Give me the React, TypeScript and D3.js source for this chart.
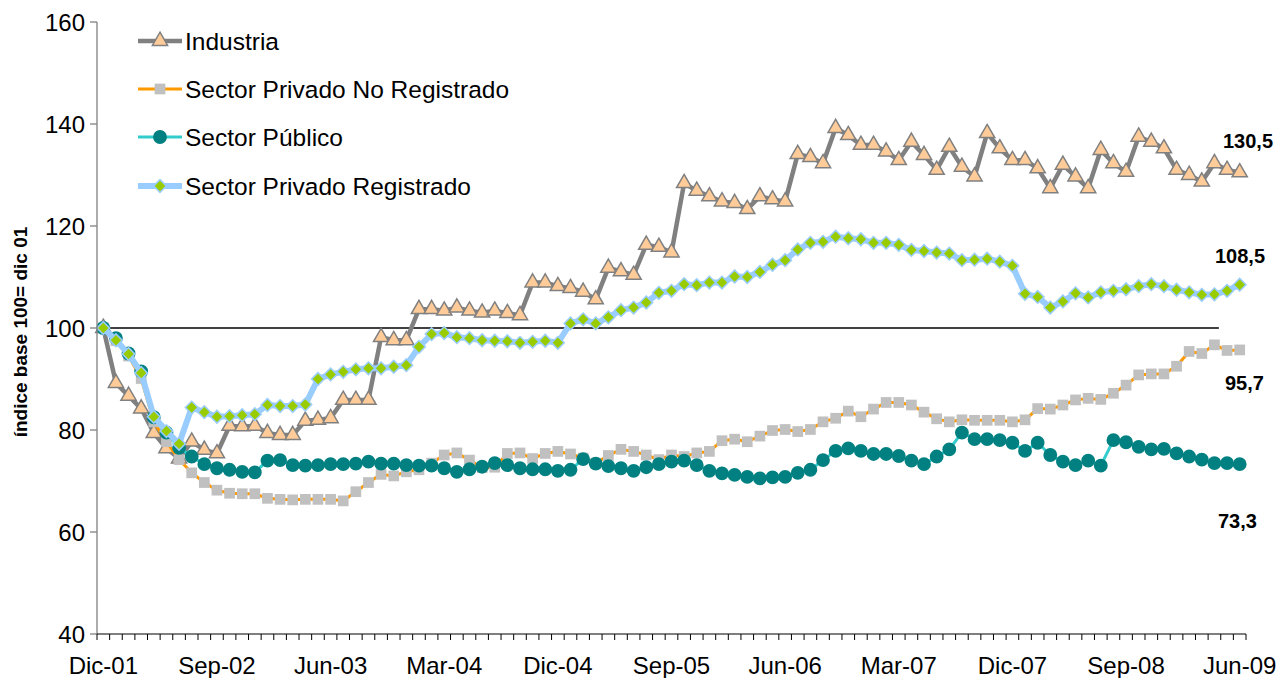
import React from 'react';
import * as d3 from 'd3';

// monthly, Dic-01 .. Jun-09
const monthNames = ['Ene', 'Feb', 'Mar', 'Abr', 'May', 'Jun', 'Jul', 'Ago', 'Sep', 'Oct', 'Nov', 'Dic'];
const months: string[] = [];
for (let k = 0; k < 91; k++) {
  const m = (11 + k) % 12;
  const yr = 1 + Math.floor((11 + k) / 12);
  months.push(`${monthNames[m]}-${String(yr).padStart(2, '0')}`);
}
const tickLabels = ['Dic-01', 'Sep-02', 'Jun-03', 'Mar-04', 'Dic-04', 'Sep-05', 'Jun-06', 'Mar-07', 'Dic-07', 'Sep-08', 'Jun-09'];
const yTicks = [40, 60, 80, 100, 120, 140, 160];

const industria = [
  100, 89.2, 86.7, 84.2, 79.4, 76.4, 74.4, 77.7, 76.1, 75.4,
  80.8, 80.7, 80.8, 79.4, 79.0, 79.0, 81.8, 82.0, 82.3, 85.9,
  85.9, 85.9, 98.2, 97.6, 97.6, 103.7, 103.7, 103.4, 104.0, 103.4,
  103.0, 103.4, 102.9, 102.5, 108.9, 108.9, 108.2, 107.8, 107.1, 105.6,
  111.8, 111.1, 110.4, 116.3, 115.9, 114.8, 128.4, 126.9, 125.8, 124.8,
  124.5, 123.3, 125.8, 125.2, 124.8, 134.1, 133.5, 132.3, 139.2, 137.8,
  135.9, 135.9, 134.6, 132.9, 136.5, 133.9, 131.0, 135.5, 131.6, 129.7,
  138.2, 135.2, 132.9, 132.9, 131.3, 127.4, 132.0, 129.7, 127.4, 134.9,
  132.3, 130.6, 137.5, 136.5, 135.2, 131.0, 130.0, 128.7, 132.3, 131.0,
  130.5,
];

const privadoNoRegistrado = [
  100, 97.5, 94.5, 90.1, 81.6, 77.7, 74.2, 71.6, 69.7, 68.2,
  67.6, 67.5, 67.5, 66.6, 66.4, 66.3, 66.4, 66.4, 66.4, 66.1,
  67.9, 69.7, 71.3, 71.0, 71.8, 72.2, 73.5, 75.1, 75.5, 74.1,
  72.6, 72.7, 75.4, 75.5, 74.4, 75.4, 75.8, 75.3, 74.5, 73.5,
  75.0, 76.2, 75.8, 75.1, 74.2, 75.1, 74.8, 75.5, 75.8, 77.9,
  78.2, 77.7, 78.8, 79.9, 80.1, 79.7, 80.1, 81.6, 82.3, 83.7,
  82.6, 84.1, 85.4, 85.4, 84.9, 83.5, 82.2, 81.6, 82.0, 81.9,
  81.9, 81.9, 81.6, 82.0, 84.2, 84.1, 84.9, 85.9, 86.2, 86.0,
  87.2, 88.8, 90.8, 91.0, 91.0, 92.5, 95.4, 95.0, 96.7, 95.6,
  95.7,
];

const publico = [
  100, 98.0, 95.0, 91.5, 82.5, 79.5, 76.5, 74.8, 73.3, 72.5,
  72.2, 71.8, 71.7, 74.0, 74.1, 73.1, 73.0, 73.1, 73.3, 73.3,
  73.4, 73.8, 73.4, 73.4, 73.1, 73.0, 73.0, 72.5, 71.8, 72.3,
  72.8, 73.5, 73.1, 72.5, 72.3, 72.3, 72.0, 72.2, 74.3, 73.4,
  72.9, 72.5, 72.0, 72.7, 73.3, 73.8, 74.0, 73.1, 72.0, 71.5,
  71.2, 70.8, 70.5, 70.7, 70.8, 71.6, 72.2, 74.1, 75.9, 76.4,
  75.9, 75.3, 75.3, 74.9, 74.0, 73.3, 74.8, 76.2, 79.5, 78.2,
  78.2, 78.0, 77.5, 75.9, 77.5, 75.1, 73.8, 73.1, 74.0, 73.0,
  78.0, 77.6, 76.7, 76.2, 76.3, 75.4, 74.8, 74.2, 73.5, 73.5,
  73.3,
];

const privadoRegistrado = [
  100, 97.6, 94.9, 91.2, 82.6, 79.8, 77.3, 84.4, 83.5, 82.6,
  82.7, 82.9, 83.1, 84.9, 84.7, 84.7, 85.0, 90.0, 90.9, 91.4,
  91.9, 92.1, 92.1, 92.4, 92.7, 96.3, 98.8, 99.0, 98.2, 98.0,
  97.6, 97.5, 97.4, 97.1, 97.3, 97.5, 97.1, 100.9, 101.7, 100.9,
  102.1, 103.5, 104.0, 105.0, 106.9, 107.3, 108.6, 108.4, 108.9, 108.9,
  110.1, 110.0, 111.0, 112.4, 113.3, 115.4, 116.7, 116.9, 117.9, 117.6,
  117.4, 116.7, 116.7, 116.3, 115.3, 115.1, 114.8, 114.6, 113.3, 113.4,
  113.6, 113.0, 112.2, 106.7, 106.1, 104.0, 105.2, 106.8, 106.0, 107.0,
  107.3, 107.6, 108.2, 108.6, 108.2, 107.5, 107.0, 106.5, 106.6, 107.3,
  108.5,
];

const lastLabels = ['130,5', '108,5', '95,7', '73,3'];

const width = 1281;
const height = 678;
const left = 97;
const right = 1246;
const top = 22;
const bottom = 634;
const font = 'Arial, "Liberation Sans", sans-serif';

const x = d3.scalePoint<string>().domain(months).range([left, right]).padding(0.5);
const y = d3.scaleLinear().domain([40, 160]).range([bottom, top]);

// square turned 45deg = the Excel diamond
const series = [
  { name: 'Industria', values: industria, line: '#808080', lw: 4.5, symbol: d3.symbolTriangle, size: 100, rot: 0, fill: '#FFCC99', stroke: '#808080', sw: 1.5 },
  { name: 'Sector Privado No Registrado', values: privadoNoRegistrado, line: '#FF9900', lw: 3, symbol: d3.symbolSquare, size: 115, rot: 0, fill: '#C0C0C0', stroke: 'none', sw: 0 },
  { name: 'Sector Público', values: publico, line: '#33CCCC', lw: 3, symbol: d3.symbolCircle, size: 150, rot: 0, fill: '#008080', stroke: 'none', sw: 0 },
  { name: 'Sector Privado Registrado', values: privadoRegistrado, line: '#99CCFF', lw: 6, symbol: d3.symbolSquare, size: 80, rot: 45, fill: '#99CC00', stroke: '#99CCFF', sw: 1.5 },
];

const lineGen = d3.line<number>().x((_, i) => x(months[i]) as number).y(d => y(d));

const App = () => {
  const step = x.step();
  const bounds = d3.range(months.length + 1).map(i => left + i * step);
  const refEnd = (x(months[88]) as number) + step * 0.35;
  const legendY = [41, 89, 137, 186];
  const labelPos = [
    { x: 1223, y: 148 },
    { x: 1215, y: 263 },
    { x: 1225, y: 390 },
    { x: 1218, y: 528 },
  ];

  return (
    <svg width={width} height={height} style={{ display: 'block', position: 'absolute', left: 0, top: 0, background: '#fff' }} fontFamily={font}>
      {/* 100 reference */}
      <line x1={left} x2={refEnd} y1={y(100)} y2={y(100)} stroke="#000" strokeWidth={1.3} />

      {series.map(s => (
        <g key={s.name}>
          <path d={lineGen(s.values) || ''} fill="none" stroke={s.line} strokeWidth={s.lw} strokeLinejoin="round" />
          {s.values.map((v, i) => (
            <path key={i} transform={`translate(${x(months[i])},${y(v)}) rotate(${s.rot})`} d={d3.symbol(s.symbol, s.size)() || ''}
              fill={s.fill} stroke={s.stroke} strokeWidth={s.sw} />
          ))}
        </g>
      ))}

      {/* axes */}
      <line x1={left} x2={left} y1={top} y2={bottom} stroke="#808080" strokeWidth={1.3} />
      {yTicks.map(t => (
        <g key={t}>
          <line x1={left - 7} x2={left} y1={y(t)} y2={y(t)} stroke="#808080" strokeWidth={1.3} />
          <text x={left - 12} y={y(t)} dy="0.36em" textAnchor="end" fontSize={24} fill="#000">{t}</text>
        </g>
      ))}
      <line x1={left} x2={right} y1={bottom} y2={bottom} stroke="#000" strokeWidth={1.2} />
      {bounds.map((bx, i) => (
        <line key={i} x1={bx} x2={bx} y1={bottom} y2={bottom + 6} stroke="#000" strokeWidth={1} />
      ))}
      {tickLabels.map(t => (
        <text key={t} x={x(t) as number} y={674} textAnchor="middle" fontSize={24} fill="#000">{t}</text>
      ))}

      <text transform={`translate(27,${(top + bottom) / 2 + 4}) rotate(-90)`} textAnchor="middle" fontSize={19} fontWeight="bold" fill="#000">
        índice base 100= dic 01
      </text>

      {/* end labels */}
      {lastLabels.map((l, i) => (
        <text key={l} x={labelPos[i].x} y={labelPos[i].y} fontSize={20} fontWeight="bold" fill="#000">{l}</text>
      ))}

      {/* legend */}
      {series.map((s, i) => (
        <g key={s.name} transform={`translate(138,${legendY[i]})`}>
          <line x1={0} x2={44} y1={0} y2={0} stroke={s.line} strokeWidth={s.lw} />
          <path transform={`translate(22,0) rotate(${s.rot})`} d={d3.symbol(s.symbol, s.size)() || ''} fill={s.fill} stroke={s.stroke} strokeWidth={s.sw} />
          <text x={47} y={0} dy="0.36em" fontSize={24.5} fill="#000">{s.name}</text>
        </g>
      ))}
    </svg>
  );
};

export default App;
